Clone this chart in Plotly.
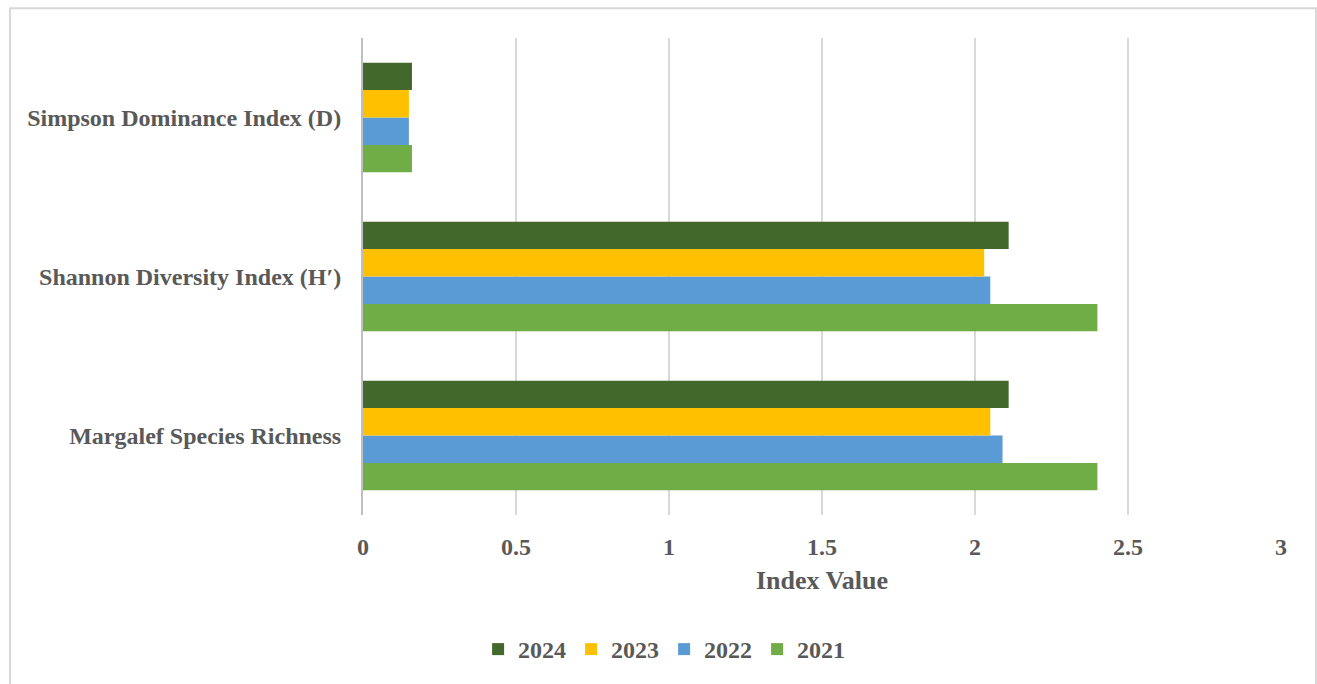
import plotly.graph_objects as go

categories = ["Margalef Species Richness", "Shannon Diversity Index (H′)", "Simpson Dominance Index (D)"]
years = ["2021", "2022", "2023", "2024"]
v2021 = [2.40, 2.40, 0.16]
v2022 = [2.09, 2.05, 0.15]
v2023 = [2.05, 2.03, 0.15]
v2024 = [2.11, 2.11, 0.16]
series = [v2021, v2022, v2023, v2024]
colors = ["#70AD47", "#5B9BD5", "#FFC000", "#43682B"]
x_ticks = [0, 0.5, 1, 1.5, 2, 2.5, 3]
x_ticklabels = ["0", "0.5", "1", "1.5", "2", "2.5", "3"]

FONT = "Liberation Serif"
GREY = "#595959"

fig = go.Figure()
for name, vals, col in zip(years, series, colors):
    fig.add_trace(go.Bar(
        y=categories, x=vals, name=name, orientation="h",
        marker=dict(color=col, line=dict(width=0)),
    ))

fig.update_layout(
    width=1317, height=684,
    barmode="group", bargap=0.31, bargroupgap=0,
    plot_bgcolor="white", paper_bgcolor="white",
    margin=dict(l=363, r=36, t=38, b=167),
    font=dict(family=FONT, color=GREY, size=24),
    xaxis=dict(
        range=[0, 3], tickvals=x_ticks, ticktext=x_ticklabels,
        showgrid=True, gridcolor="#d9d9d9", gridwidth=2,
        zeroline=False, showline=False,
        ticks="outside", ticklen=10, tickcolor="rgba(0,0,0,0)",
        tickfont=dict(family=FONT, size=24, color=GREY, weight="bold"),
        title=dict(text="<b>Index Value</b>", font=dict(family=FONT, size=26, color=GREY), standoff=12),
        fixedrange=True,
    ),
    yaxis=dict(
        type="category", categoryorder="array", categoryarray=categories,
        showgrid=False, showline=True, linecolor="#bfbfbf", linewidth=2,
        ticks="outside", ticklen=15, tickcolor="rgba(0,0,0,0)",
        tickfont=dict(family=FONT, size=24, color=GREY, weight="bold"),
        fixedrange=True,
    ),
    legend=dict(
        orientation="h", traceorder="reversed",
        x=0.328, xanchor="center", y=-0.282, yanchor="middle",
        font=dict(family=FONT, size=24, color=GREY, weight="bold"),
        itemwidth=30,
    ),
    showlegend=True,
    shapes=[dict(
        type="rect", xref="paper", yref="paper",
        x0=-0.3845, x1=1.0381, y0=-0.40, y1=1.0626,
        line=dict(color="#d9d9d9", width=2), fillcolor="rgba(0,0,0,0)", layer="below",
    )],
)

fig.write_html("out.html")
